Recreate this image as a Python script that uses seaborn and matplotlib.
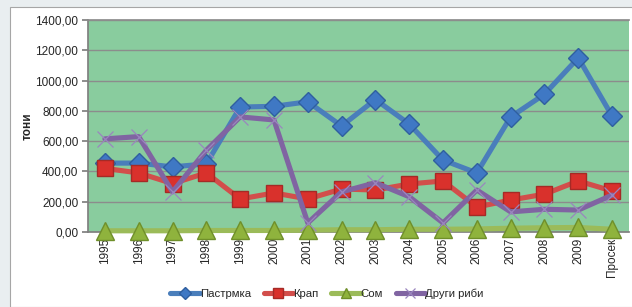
import matplotlib
matplotlib.use("Agg")
import matplotlib.pyplot as plt
import matplotlib.patches as mpatches
from matplotlib.ticker import FixedLocator
import seaborn as sns
import pandas as pd

categories = ["1995", "1996", "1997", "1998", "1999", "2000", "2001", "2002",
              "2003", "2004", "2005", "2006", "2007", "2008", "2009", "Просек"]
pastrmka = [455, 455, 430, 450, 825, 830, 860, 700, 875, 713, 475, 390, 760, 910, 1150, 766]
krap = [420, 390, 320, 390, 218, 258, 218, 284, 277, 317, 337, 165, 211, 250, 337, 271]
som = [8, 8, 8, 10, 10, 10, 12, 15, 15, 18, 18, 20, 25, 28, 30, 18]
drugi = [615, 630, 265, 540, 760, 740, 60, 265, 325, 233, 60, 277, 133, 150, 145, 244]
yticks = [0, 200, 400, 600, 800, 1000, 1200, 1400]
ytick_labels = ["0,00", "200,00", "400,00", "600,00", "800,00", "1000,00", "1200,00", "1400,00"]

sns.set_theme(style="white")
plt.rcParams['font.family'] = ['Liberation Sans', 'DejaVu Sans']

fig = plt.figure(figsize=(6.32, 3.07), dpi=100)
fig.patch.set_facecolor("#e9eef0")
# white chart area
fig.patches.append(mpatches.Rectangle((10/632, 0), 1, 1 - 7/307, transform=fig.transFigure,
                                      facecolor="white", edgecolor="#a6a6a6", linewidth=0.8, zorder=-5))

ax = fig.add_axes([88/632, 1 - 232/307, (629 - 88)/632, (232 - 20)/307])
ax.set_facecolor("#89cc9e")

x = list(range(len(categories)))
df = pd.DataFrame({"x": x * 4,
                   "v": pastrmka + krap + som + drugi,
                   "s": ["Пастрмка"] * 16 + ["Крап"] * 16 + ["Сом"] * 16 + ["Други риби"] * 16})

styles = {
    "Пастрмка": dict(color="#4a7ebb", marker="D", markersize=10, mfc="#3f78c4", mec="#2f5f9f"),
    "Крап": dict(color="#d24e4b", marker="s", markersize=11, mfc="#d9312c", mec="#a52a26"),
    "Сом": dict(color="#9bbb59", marker="^", markersize=13, mfc="#8fb33d", mec="#6f8f2a"),
    "Други риби": dict(color="#8064a2", marker="x", markersize=12, mfc="#9a86bf", mec="#9a86bf"),
}
order = ["Пастрмка", "Крап", "Сом", "Други риби"]
z = {"Пастрмка": 3, "Крап": 4, "Сом": 5, "Други риби": 6}
for name in order:
    st = styles[name]
    sub = df[df["s"] == name]
    sns.lineplot(data=sub, x="x", y="v", ax=ax, color=st["color"], linewidth=3.7,
                 marker=st["marker"], markersize=st["markersize"],
                 markerfacecolor=st["mfc"], markeredgecolor=st["mec"],
                 markeredgewidth=1.0 if name != "Други риби" else 0.9,
                 label=name, zorder=z[name], clip_on=False)

ax.set_xlim(-0.5, 15.5)
ax.set_ylim(0, 1400)
ax.set_yticks(yticks)
ax.set_yticklabels(ytick_labels, fontsize=8.5)
ax.set_xticks(x)
ax.set_xticklabels(categories, rotation=90, fontsize=8.5)
ax.xaxis.set_minor_locator(FixedLocator([i - 0.5 for i in range(17)]))
ax.tick_params(axis="x", which="major", length=0, pad=4)
ax.tick_params(axis="x", which="minor", length=3, color="#808080", direction="out")
ax.tick_params(axis="y", length=4, color="#808080", direction="out", left=True, pad=3)
for g in yticks[1:]:
    ax.axhline(g, color="#8c8c8c", linewidth=1.0, zorder=1)
for side in ["right"]:
    ax.spines[side].set_visible(False)
ax.spines["left"].set_color("#808080")
ax.spines["bottom"].set_color("#808080")
ax.spines["top"].set_color("#8c8c8c")
ax.set_xlabel("")
ax.set_ylabel("тони", fontsize=8.5, fontweight="bold", labelpad=1)

handles, labels = ax.get_legend_handles_labels()
hmap = dict(zip(labels, handles))
leg_order = ["Пастрмка", "Крап", "Сом", "Други риби"]
ax.legend([hmap[n] for n in leg_order], leg_order, loc="center",
          bbox_to_anchor=(327/632, 1 - 294/307), bbox_transform=fig.transFigure,
          ncol=4, frameon=False, fontsize=8.2, handlelength=2.6, columnspacing=1.1,
          handletextpad=0.0, markerscale=0.6)

fig.savefig("out.png", dpi=100, facecolor=fig.get_facecolor())
